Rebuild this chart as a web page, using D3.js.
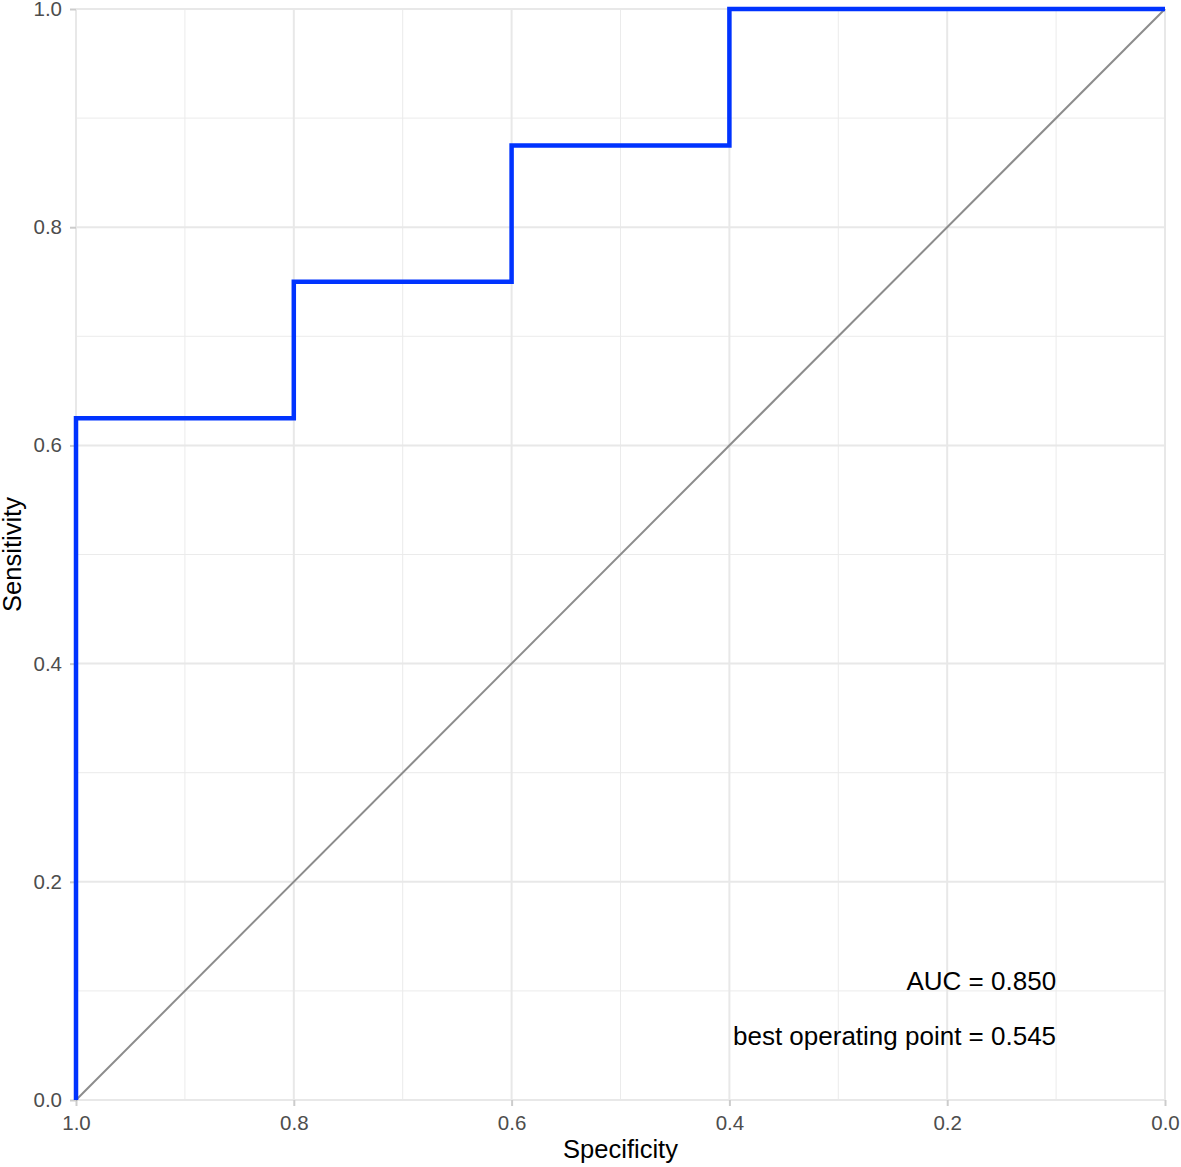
<!DOCTYPE html>
<html>
<head>
<meta charset="utf-8">
<script src="https://cdn.jsdelivr.net/npm/d3@7"></script>
<style>
  body { margin: 0; background: #fff; }
  text { font-family: "Liberation Sans", Arial, sans-serif; }
</style>
</head>
<body>
<div id="chart"></div>
<script>
const width = 1181, height = 1167;
const margin = { top: 9, right: 16, bottom: 67, left: 76 };

// ROC curve points (specificity, sensitivity)
const specificity = [1.0, 1.0, 0.8, 0.8, 0.6, 0.6, 0.4, 0.4, 0.0];
const sensitivity = [0.0, 0.625, 0.625, 0.75, 0.75, 0.875, 0.875, 1.0, 1.0];
const majorTicks = [0, 0.2, 0.4, 0.6, 0.8, 1.0];
const minorTicks = [0.1, 0.3, 0.5, 0.7, 0.9];
const annotations = ["AUC = 0.850", "best operating point = 0.545"];

const svg = d3.select("#chart").append("svg")
  .attr("width", width)
  .attr("height", height);

const innerWidth = width - margin.left - margin.right;
const innerHeight = height - margin.top - margin.bottom;

const g = svg.append("g").attr("transform", `translate(${margin.left},${margin.top})`);

const x = d3.scaleLinear().domain([1, 0]).range([0, innerWidth]);
const y = d3.scaleLinear().domain([0, 1]).range([innerHeight, 0]);

// grid lines
g.selectAll(".minor-x").data(minorTicks).join("line")
  .attr("x1", d => x(d)).attr("x2", d => x(d))
  .attr("y1", 0).attr("y2", innerHeight)
  .attr("stroke", "#ebebeb").attr("stroke-width", 1);
g.selectAll(".minor-y").data(minorTicks).join("line")
  .attr("y1", d => y(d)).attr("y2", d => y(d))
  .attr("x1", 0).attr("x2", innerWidth)
  .attr("stroke", "#ebebeb").attr("stroke-width", 1);
g.selectAll(".major-x").data(majorTicks).join("line")
  .attr("x1", d => x(d)).attr("x2", d => x(d))
  .attr("y1", 0).attr("y2", innerHeight)
  .attr("stroke", "#e8e8e8").attr("stroke-width", 2);
g.selectAll(".major-y").data(majorTicks).join("line")
  .attr("y1", d => y(d)).attr("y2", d => y(d))
  .attr("x1", 0).attr("x2", innerWidth)
  .attr("stroke", "#e8e8e8").attr("stroke-width", 2);

// axes
const xAxis = g.append("g")
  .attr("transform", `translate(0,${innerHeight})`)
  .call(d3.axisBottom(x).tickValues(majorTicks).tickFormat(d3.format(".1f")).tickSize(6).tickPadding(9));
const yAxis = g.append("g")
  .call(d3.axisLeft(y).tickValues(majorTicks).tickFormat(d3.format(".1f")).tickSize(6).tickPadding(8));

[xAxis, yAxis].forEach(a => {
  a.select(".domain").remove();
  a.selectAll(".tick line").attr("stroke", "#cccccc").attr("stroke-width", 2);
  a.selectAll(".tick text").attr("fill", "#4d4d4d").attr("font-size", "20.5px");
});

// diagonal reference
g.append("line")
  .attr("x1", x(1)).attr("y1", y(0))
  .attr("x2", x(0)).attr("y2", y(1))
  .attr("stroke", "#8c8c8c").attr("stroke-width", 2);

// ROC step line
const pts = specificity.map((s, i) => [s, sensitivity[i]]);
g.append("path")
  .datum(pts)
  .attr("fill", "none")
  .attr("stroke", "#0033ff")
  .attr("stroke-width", 4.5)
  .attr("d", d3.line().x(d => x(d[0])).y(d => y(d[1])));

// annotations
g.selectAll(".annot").data(annotations).join("text")
  .attr("x", x(0.1))
  .attr("y", (d, i) => y(0.1) - 1 + i * 55)
  .attr("text-anchor", "end")
  .attr("font-size", "26px")
  .attr("fill", "#000")
  .text(d => d);

// axis titles
svg.append("text")
  .attr("x", margin.left + innerWidth / 2)
  .attr("y", height - 9)
  .attr("text-anchor", "middle")
  .attr("font-size", "25.5px")
  .text("Specificity");

svg.append("text")
  .attr("transform", `translate(21, ${margin.top + innerHeight / 2}) rotate(-90)`)
  .attr("text-anchor", "middle")
  .attr("font-size", "25.5px")
  .text("Sensitivity");
</script>
</body>
</html>
